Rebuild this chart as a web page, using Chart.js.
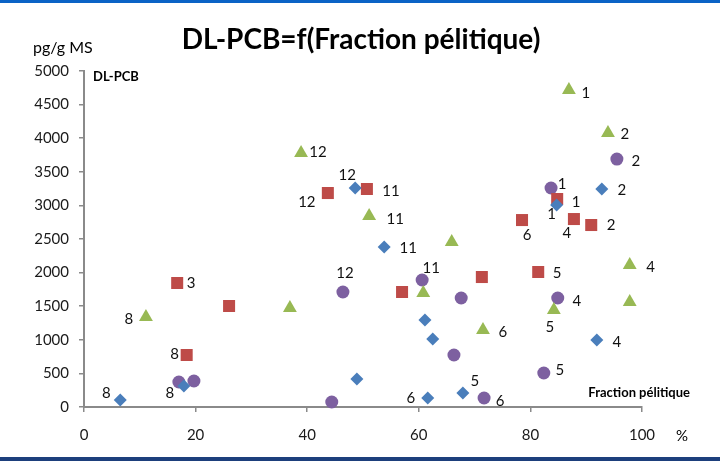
<!DOCTYPE html>
<html>
<head>
<meta charset="utf-8">
<script src="https://cdn.jsdelivr.net/npm/chart.js@4/dist/chart.umd.min.js"></script>
<style>
  html, body { margin: 0; padding: 0; background: #fff; }
  #wrap { width: 720px; height: 461px; position: relative; }
</style>
</head>
<body>
<div id="wrap"><canvas id="pcbchart"></canvas></div>
<script>
// values (x = fraction pélitique %, y = pg/g MS)
var blueX = [6.5, 17.9, 48.6, 53.8, 61.1, 62.5, 48.9, 61.6, 67.9, 84.7, 92.8, 91.9];
var blueY = [104, 312, 3259, 2381, 1295, 1012, 417, 134, 208, 3006, 3244, 997];
var blueLabels = ['8', '8', '12', '11', '', '', '', '6', '5', '1', '2', '4'];

var redX = [16.7, 18.4, 26.0, 43.7, 50.7, 57.0, 71.3, 78.5, 84.8, 87.8, 90.9, 81.4];
var redY = [1845, 774, 1503, 3184, 3244, 1711, 1934, 2782, 3095, 2797, 2708, 2009];
var redLabels = ['3', '8', '', '12', '11', '', '', '6', '1', '4', '2', '5'];

var greenX = [11.1, 36.9, 38.9, 51.1, 65.9, 60.8, 71.5, 86.9, 93.9, 97.8, 97.8, 84.2];
var greenY = [1339, 1473, 3780, 2842, 2455, 1696, 1146, 4717, 4077, 2113, 1562, 1443];
var greenLabels = ['8', '', '12', '11', '', '', '6', '1', '2', '4', '', '5'];

var purpleX = [17.0, 19.7, 44.4, 46.4, 60.6, 67.6, 66.3, 71.7, 83.7, 95.5, 84.9, 82.4];
var purpleY = [372, 387, 74, 1711, 1890, 1622, 774, 134, 3259, 3690, 1622, 506];
var purpleLabels = ['', '', '', '12', '11', '', '', '6', '1', '2', '4', '5'];

var xTicks = [0, 20, 40, 60, 80, 100];
var yTicks = [0, 500, 1000, 1500, 2000, 2500, 3000, 3500, 4000, 4500, 5000];

// where each label sits relative to its marker (px)
var blueOff = [[-14,-7],[-14,7],[-8,-13],[24,1],[0,0],[0,0],[0,0],[-17,0],[12,-12],[-5,9],[20,1],[20,2]];
var redOff = [[14,0],[-12,-1],[0,0],[-21,9],[24,2],[0,0],[0,0],[5,15],[19,3],[-7,14],[20,0],[19,1]];
var greenOff = [[-17,2],[0,0],[17,-1],[26,3],[0,0],[0,0],[20,2],[17,3],[17,1],[21,2],[0,0],[-4,17]];
var purpleOff = [[0,0],[0,0],[0,0],[2,-19],[9,-12],[0,0],[0,0],[16,3],[11,-4],[19,2],[19,3],[16,-3]];

var FONT = 'Lato, "Open Sans", sans-serif';

function pts(xs, ys) {
  var out = [];
  for (var i = 0; i < xs.length; i++) out.push({x: xs[i], y: ys[i]});
  return out;
}

var labelSets = [blueLabels, redLabels, greenLabels, purpleLabels];
var offSets = [blueOff, redOff, greenOff, purpleOff];

var decorPlugin = {
  id: 'decor',
  beforeDraw: function(chart) {
    var c = chart.ctx;
    c.save();
    c.fillStyle = '#ffffff';
    c.fillRect(0, 0, chart.width, chart.height);
    c.fillStyle = '#0b63c6';
    c.fillRect(0, 0, chart.width, 3);
    c.fillStyle = '#1d3f7c';
    c.fillRect(0, 457, chart.width, 4);
    c.restore();
  },
  afterDraw: function(chart) {
    var c = chart.ctx;
    c.save();
    c.fillStyle = '#000';
    c.textBaseline = 'middle';
    c.font = 'bold 28px ' + FONT;
    c.textAlign = 'center';
    c.fillText('DL-PCB=f(Fraction pélitique)', 361, 40);
    c.font = '16px ' + FONT;
    c.textAlign = 'left';
    c.fillText('pg/g MS', 33, 48);
    c.font = '15px ' + FONT;
    c.fillText('%', 676, 436);
    c.font = 'bold 13px ' + FONT;
    c.fillText('DL-PCB', 93, 77);
    c.textAlign = 'right';
    c.fillText('Fraction pélitique', 690, 393);
    c.restore();
  },
  afterDatasetsDraw: function(chart) {
    var c = chart.ctx;
    c.save();
    c.font = '15px ' + FONT;
    c.fillStyle = '#111';
    c.textAlign = 'center';
    c.textBaseline = 'middle';
    chart.data.datasets.forEach(function(ds, i) {
      var meta = chart.getDatasetMeta(i);
      meta.data.forEach(function(el, j) {
        var t = labelSets[i][j];
        if (!t) return;
        c.fillText(t, el.x + offSets[i][j][0], el.y + offSets[i][j][1]);
      });
    });
    c.restore();
  }
};

var ctx = document.getElementById('pcbchart');

var scatter = new Chart(ctx, {
  type: 'scatter',
  data: {
    datasets: [
      {
        label: 'A',
        data: pts(blueX, blueY),
        pointStyle: 'rectRot',
        pointRadius: 6.5,
        backgroundColor: '#4a7ebb',
        borderColor: '#4a7ebb',
        borderWidth: 0
      },
      {
        label: 'B',
        data: pts(redX, redY),
        pointStyle: 'rect',
        pointRadius: 8.5,
        backgroundColor: '#be4b48',
        borderColor: '#be4b48',
        borderWidth: 0
      },
      {
        label: 'C',
        data: pts(greenX, greenY),
        pointStyle: 'triangle',
        pointRadius: 8,
        backgroundColor: '#98b954',
        borderColor: '#98b954',
        borderWidth: 0
      },
      {
        label: 'D',
        data: pts(purpleX, purpleY),
        pointStyle: 'circle',
        pointRadius: 6.5,
        backgroundColor: '#7d60a0',
        borderColor: '#7d60a0',
        borderWidth: 0
      }
    ]
  },
  options: {
    responsive: true,
    maintainAspectRatio: false,
    animation: false,
    clip: false,
    layout: { padding: { top: 71, right: 78, left: 0, bottom: 0 } },
    plugins: {
      legend: { display: false },
      tooltip: { enabled: false },
      title: { display: false }
    },
    scales: {
      x: {
        type: 'linear',
        min: xTicks[0],
        max: xTicks[xTicks.length - 1],
        afterBuildTicks: function(axis) {
          axis.ticks = xTicks.map(function(v) { return {value: v}; });
        },
        afterFit: function(axis) { axis.height = 54; },
        grid: {
          drawOnChartArea: false,
          drawTicks: true,
          tickLength: 5,
          color: '#8a8a8a',
          lineWidth: 1.5
        },
        border: { color: '#8a8a8a', width: 2 },
        ticks: {
          color: '#1a1a1a',
          padding: 14,
          maxRotation: 0,
          font: { family: FONT, size: 15 },
          callback: function(v) { return String(v); }
        }
      },
      y: {
        type: 'linear',
        min: yTicks[0],
        max: yTicks[yTicks.length - 1],
        afterBuildTicks: function(axis) {
          axis.ticks = yTicks.map(function(v) { return {value: v}; });
        },
        afterFit: function(axis) { axis.width = 84; },
        grid: {
          drawOnChartArea: false,
          drawTicks: true,
          tickLength: 5,
          color: '#8a8a8a',
          lineWidth: 1.5
        },
        border: { color: '#8a8a8a', width: 2 },
        ticks: {
          color: '#1a1a1a',
          padding: 10,
          font: { family: FONT, size: 15 },
          callback: function(v) { return String(v); }
        }
      }
    }
  },
  plugins: [decorPlugin]
});
</script>
</body>
</html>
